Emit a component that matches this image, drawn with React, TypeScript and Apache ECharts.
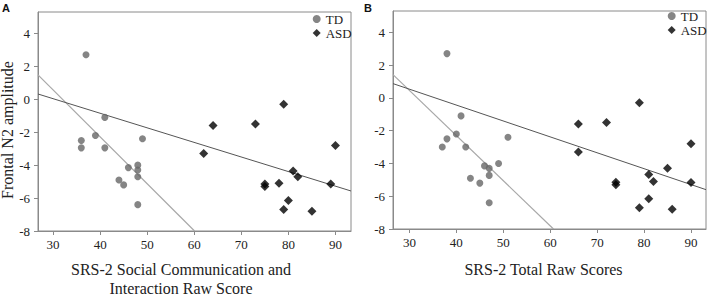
import React, { useEffect, useRef } from "react";
import * as echarts from "echarts";

// Panel A: SRS-2 Social Communication and Interaction Raw Score
const tdA: number[][] = [
  [37, 2.7], [41, -1.1], [39, -2.2], [36, -2.5], [36, -2.95], [41, -2.95], [49, -2.4],
  [46, -4.15], [48, -4.0], [48, -4.3], [48, -4.7], [44, -4.9], [45, -5.2], [48, -6.4],
];
const asdA: number[][] = [
  [64, -1.6], [73, -1.5], [79, -0.3], [90, -2.8], [62, -3.3], [75, -5.15], [75, -5.3],
  [78, -5.1], [81, -4.35], [82, -4.7], [80, -6.15], [79, -6.7], [85, -6.8], [89, -5.15],
];
const fitAllA: number[][] = [[26.8, 0.32], [93.3, -5.57]];
const fitTdA: number[][] = [[26.8, 1.48], [60.06, -8]];

// Panel B: SRS-2 Total Raw Scores
const tdB: number[][] = [
  [38, 2.7], [41, -1.1], [40, -2.2], [38, -2.5], [37, -3.0], [42, -3.0], [51, -2.4],
  [46, -4.15], [47, -4.3], [49, -4.0], [47, -4.73], [43, -4.9], [45, -5.2], [47, -6.4],
];
const asdB: number[][] = [
  [66, -1.6], [72, -1.5], [79, -0.3], [90, -2.8], [66, -3.3], [74, -5.15], [74, -5.3],
  [81, -4.67], [82, -5.1], [85, -4.3], [90, -5.16], [81, -6.15], [79, -6.7], [86, -6.8],
];
const fitAllB: number[][] = [[26.5, 0.87], [93.2, -5.6]];
const fitTdB: number[][] = [[26.5, 1.42], [60.7, -8]];

const xTicks = [30, 40, 50, 60, 70, 80, 90];
const yTicks = [-8, -6, -4, -2, 0, 2, 4];

const serif = "Liberation Serif";
const axisGrey = "#8a8a8a";

function xAxis(gridIndex: number, min: number, max: number, name: string, gap: number, padRight: number) {
  return {
    type: "value",
    gridIndex,
    min,
    max,
    splitLine: { show: false },
    axisLine: { show: true, onZero: false, lineStyle: { color: axisGrey, width: 1 } },
    axisTick: { show: true, length: 4, lineStyle: { color: axisGrey }, customValues: xTicks },
    axisLabel: { color: "#222", fontFamily: serif, fontSize: 13, margin: 7, customValues: xTicks },
    name,
    nameLocation: "middle",
    nameGap: gap,
    nameTextStyle: { color: "#222", fontFamily: serif, fontSize: 16, lineHeight: 19, padding: [0, padRight, 0, 0] },
  };
}

function yAxis(gridIndex: number, name: string) {
  return {
    type: "value",
    gridIndex,
    min: -8,
    max: 5.3,
    splitLine: { show: false },
    axisLine: { show: true, onZero: false, lineStyle: { color: axisGrey, width: 1 } },
    axisTick: { show: true, length: 4, lineStyle: { color: axisGrey }, customValues: yTicks },
    axisLabel: { color: "#222", fontFamily: serif, fontSize: 13, margin: 8, customValues: yTicks },
    name,
    nameLocation: "middle",
    nameGap: 19,
    nameTextStyle: { color: "#222", fontFamily: serif, fontSize: 16, padding: [0, 17, 0, 0] },
  };
}

function scatter(name: string, data: number[][], idx: number, symbol: string, size: number, color: string) {
  return {
    type: "scatter",
    name,
    data,
    xAxisIndex: idx,
    yAxisIndex: idx,
    symbol,
    symbolSize: size,
    itemStyle: { color },
    z: 3,
  };
}

function fit(data: number[][], idx: number, color: string, width: number) {
  return {
    type: "line",
    name: "fit",
    data,
    xAxisIndex: idx,
    yAxisIndex: idx,
    symbol: "none",
    silent: true,
    lineStyle: { color, width },
    z: 2,
  };
}

function legend(left: number, top: number) {
  return {
    orient: "vertical",
    left,
    top,
    padding: 0,
    itemWidth: 8,
    itemHeight: 8,
    itemGap: 1,
    textStyle: { fontFamily: serif, fontSize: 13, lineHeight: 13, color: "#222" },
    data: [
      { name: "TD", icon: "circle" },
      { name: "ASD", icon: "diamond" },
    ],
  };
}

export default function App() {
  const ref = useRef<HTMLDivElement>(null);
  useEffect(() => {
    if (!ref.current) return;
    const chart = echarts.init(ref.current, undefined, { renderer: "svg" });
    chart.setOption({
      animation: false,
      backgroundColor: "#fff",
      textStyle: { fontFamily: serif },
      grid: [
        { left: 38, top: 12, width: 313, height: 219, show: true, borderColor: axisGrey, borderWidth: 1, containLabel: false, outerBoundsMode: "none" },
        { left: 393, top: 11, width: 313, height: 218, show: true, borderColor: axisGrey, borderWidth: 1, containLabel: false, outerBoundsMode: "none" },
      ],
      xAxis: [
        xAxis(0, 26.8, 93.3, "SRS-2 Social Communication and\nInteraction Raw Score", 29, 27),
        xAxis(1, 26.5, 93.2, "SRS-2 Total Raw Scores", 31, 12),
      ],
      yAxis: [yAxis(0, "Frontal N2 amplitude"), { ...yAxis(1, ""), name: "" }],
      legend: [legend(312.7, 12.5), legend(667.7, 9.5)],
      graphic: [
        { type: "text", left: 2, top: 2, style: { text: "A", font: "bold 11px Liberation Sans", fill: "#111" } },
        { type: "text", left: 364, top: 2, style: { text: "B", font: "bold 11px Liberation Sans", fill: "#111" } },
      ],
      series: [
        fit(fitTdA, 0, "#a8a8a8", 1.2),
        fit(fitAllA, 0, "#555", 1),
        scatter("TD", tdA, 0, "circle", 7, "#666"),
        scatter("ASD", asdA, 0, "diamond", 9, "#000"),
        fit(fitTdB, 1, "#a8a8a8", 1.2),
        fit(fitAllB, 1, "#555", 1),
        scatter("TD", tdB, 1, "circle", 7, "#666"),
        scatter("ASD", asdB, 1, "diamond", 9, "#000"),
      ],
    });
    return () => chart.dispose();
  }, []);
  return <div ref={ref} style={{ position: "absolute", left: 0, top: 0, width: 708, height: 296 }} />;
}
